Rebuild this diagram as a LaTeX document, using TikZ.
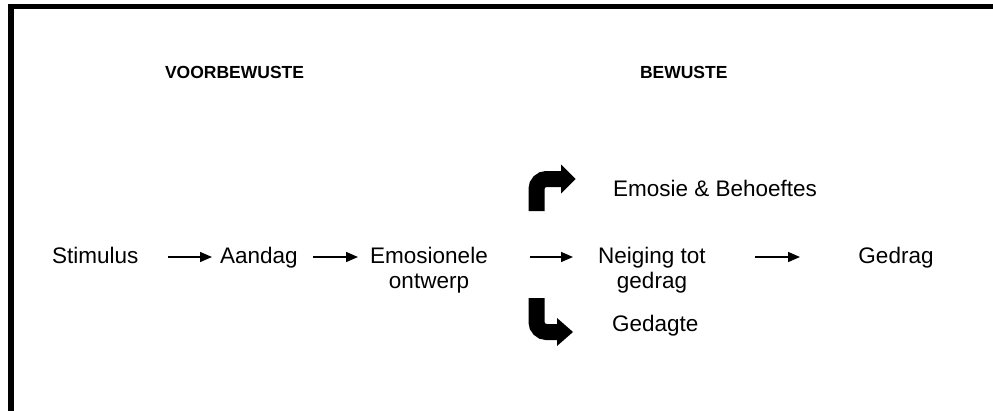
\documentclass[tikz,border=0pt]{standalone}
\usepackage{fontspec}
\setmainfont{Liberation Sans}
\usetikzlibrary{arrows.meta}
\tikzset{
  txt/.style={inner sep=0pt, outer sep=0pt, anchor=base west, font=\fontsize{22.5}{25}\selectfont},
  ctxt/.style={inner sep=0pt, outer sep=0pt, anchor=base, align=center, font=\fontsize{22.5}{25}\selectfont},
  head/.style={inner sep=0pt, outer sep=0pt, anchor=base west, font=\fontsize{17.5}{21}\selectfont\bfseries},
  arr/.style={line width=1.4pt, -{Triangle[length=12pt,width=10pt]}},
  bent/.style={line width=16pt, rounded corners=10pt},
}
\begin{document}
\begin{tikzpicture}[x=1pt,y=-1pt]
\useasboundingbox (0,0) rectangle (993,410);
% frame (top and left visible)
\draw[line width=5.5pt] (11,420) -- (11,6.5) -- (1010,6.5);
% headings
\node[head] (hv) at (165,78) {VOORBEWUSTE};
\node[head] (hb) at (640,78) {BEWUSTE};
% main chain
\node[txt] (stim) at (52,263) {Stimulus};
\node[txt] (aand) at (220,263) {Aandag};
\node[ctxt] (emo) at (429,288) {Emosionele\\ontwerp};
\node[ctxt] (nei) at (652,288) {Neiging tot\\gedrag};
\node[ctxt] (ged) at (896,263) {Gedrag};
\node[txt] (eb) at (613,196) {Emosie \& Behoeftes};
\node[txt] (gdg) at (612,331) {Gedagte};
% thin arrows
\coordinate (a1s) at (168,257); \coordinate (a1e) at (212,257);
\coordinate (a2s) at (313,257); \coordinate (a2e) at (358,257);
\coordinate (a3s) at (530,257); \coordinate (a3e) at (573,257);
\coordinate (a4s) at (755,257); \coordinate (a4e) at (800,257);
\draw[arr] (a1s) -- (a1e);
\draw[arr] (a2s) -- (a2e);
\draw[arr] (a3s) -- (a3e);
\draw[arr] (a4s) -- (a4e);
% bent arrows
\draw[bent] (536.5,211) -- (536.5,179) -- (562,179);
\fill (561,164.5) -- (575.5,179) -- (561,193.5) -- cycle;
\draw[bent] (536.5,298) -- (536.5,332) -- (558,332);
\fill (557,318) -- (573,332) -- (557,346) -- cycle;
\end{tikzpicture}
\end{document}
